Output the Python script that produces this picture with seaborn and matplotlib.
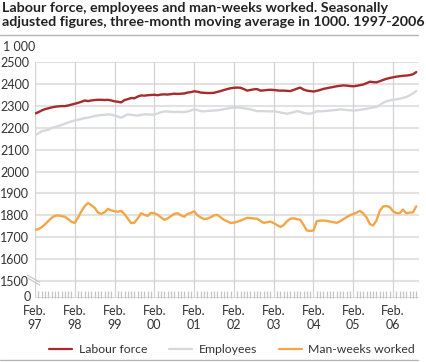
import numpy as np
import pandas as pd
import matplotlib.pyplot as plt
import seaborn as sns
from matplotlib.lines import Line2D

# monthly values, Feb 1997 - Sep 2006, in 1000
labour_force = [2266, 2272, 2280, 2286, 2290, 2294, 2297, 2299, 2300, 2300, 2303, 2307,
                2311, 2315, 2320, 2326, 2323, 2326, 2328, 2329, 2329, 2328, 2329, 2326,
                2322, 2320, 2317, 2328, 2332, 2337, 2336, 2344, 2349, 2348, 2350, 2351,
                2352, 2350, 2353, 2354, 2353, 2355, 2357, 2356, 2357, 2358, 2362, 2364,
                2368, 2366, 2362, 2361, 2360, 2360, 2361, 2365, 2369, 2374, 2378, 2382,
                2384, 2385, 2384, 2378, 2371, 2374, 2377, 2378, 2371, 2372, 2374, 2375,
                2374, 2372, 2371, 2371, 2370, 2369, 2374, 2380, 2385, 2376, 2371, 2369,
                2367, 2370, 2374, 2379, 2382, 2385, 2388, 2391, 2393, 2395, 2394, 2392,
                2391, 2393, 2396, 2399, 2405, 2412, 2410, 2409, 2414, 2420, 2425, 2429,
                2432, 2435, 2437, 2439, 2440, 2442, 2446, 2456]
employees = [2165, 2175, 2185, 2188, 2192, 2200, 2204, 2208, 2214, 2219, 2225, 2230,
             2234, 2238, 2241, 2245, 2247, 2251, 2255, 2257, 2259, 2260, 2262, 2261,
             2257, 2252, 2247, 2255, 2262, 2260, 2258, 2257, 2260, 2262, 2262, 2261,
             2262, 2266, 2272, 2276, 2275, 2274, 2273, 2274, 2273, 2273, 2275, 2280,
             2285, 2282, 2277, 2276, 2278, 2279, 2280, 2281, 2283, 2286, 2289, 2292,
             2293, 2294, 2292, 2290, 2288, 2285, 2281, 2277, 2277, 2277, 2276, 2276,
             2276, 2274, 2271, 2268, 2265, 2268, 2272, 2277, 2274, 2269, 2266, 2265,
             2270, 2276, 2276, 2277, 2278, 2280, 2281, 2283, 2285, 2284, 2282, 2281,
             2280, 2281, 2283, 2285, 2288, 2291, 2294, 2296, 2305, 2315, 2322, 2326,
             2329, 2331, 2334, 2338, 2342, 2349, 2358, 2369]
man_weeks = [1733, 1736, 1745, 1758, 1773, 1788, 1797, 1799, 1796, 1793, 1782, 1770,
             1765, 1790, 1818, 1842, 1856, 1846, 1834, 1812, 1806, 1814, 1829, 1822,
             1818, 1816, 1820, 1805, 1784, 1764, 1766, 1786, 1809, 1802, 1797, 1811,
             1809, 1802, 1790, 1779, 1785, 1796, 1806, 1809, 1800, 1793, 1806, 1810,
             1818, 1800, 1790, 1782, 1785, 1791, 1799, 1802, 1790, 1779, 1772, 1765,
             1766, 1770, 1775, 1782, 1788, 1787, 1785, 1784, 1774, 1765, 1768, 1771,
             1764, 1755, 1746, 1755, 1772, 1784, 1786, 1782, 1779, 1756, 1730, 1728,
             1730, 1773, 1775, 1776, 1774, 1771, 1768, 1765, 1772, 1782, 1791, 1800,
             1806, 1812, 1820, 1808, 1790, 1760, 1753, 1776, 1820, 1840, 1842, 1838,
             1818, 1810, 1809, 1826, 1809, 1812, 1813, 1841]
years = ['97', '98', '99', '00', '01', '02', '03', '04', '05', '06']
series_names = ['Labour force', 'Employees', 'Man-weeks worked']
colors = ['#a82a2b', '#d6d8de', '#f4a647']

sns.set_theme(style='white')
plt.rcParams['font.family'] = ['Lato', 'DejaVu Sans']

months = np.arange(len(labour_force))
df = pd.DataFrame({'month': months,
                   'Labour force': labour_force,
                   'Employees': employees,
                   'Man-weeks worked': man_weeks})
long = df.melt(id_vars='month', var_name='series', value_name='value')

fig = plt.figure(figsize=(4.27, 3.62), dpi=100)
ax = fig.add_axes([0.082, 0.177, 0.899, 0.651])

zero_pos = 1422  # broken axis: where "0" sits
ax.set_ylim(zero_pos - 1, 2501)
ax.set_xlim(0, 115.8)

# grid
for v in range(1500, 2501, 100):
    ax.axhline(v, color='#e2e2e2', lw=1.5, zorder=0)
ax.axhline(zero_pos, color='#cfcfcf', lw=1.2, zorder=0)
for i in range(len(years)):
    ax.axvline(i * 12, color='#d3d3d3', lw=0.9, zorder=0)

sns.lineplot(data=long, x='month', y='value', hue='series',
             palette=dict(zip(series_names, colors)), hue_order=series_names[::-1],
             linewidth=1.7, ax=ax, legend=False)

for s in ax.spines.values():
    s.set_visible(False)

ax.set_yticks(list(range(1500, 2501, 100)))
ax.set_yticklabels([str(v) for v in range(1500, 2501, 100)])
ax.set_xticks([i * 12 for i in range(len(years))])
ax.set_xticklabels(['Feb.\n' + y for y in years])
ax.set_xticks(np.arange(0, 116), minor=True)
ax.tick_params(axis='y', length=0, pad=4, labelsize=9, labelcolor='#333333')
ax.tick_params(axis='x', which='major', length=0, pad=5, labelsize=9, labelcolor='#333333')
ax.tick_params(axis='x', which='minor', direction='in', length=5, width=0.9, color='#c4c4c4', bottom=True)
ax.set_xlabel('')
ax.set_ylabel('')

# axis break marks
for dy in (0, 0.012):
    ax.plot([-0.02, 0.012], [0.085 + dy, 0.055 + dy], transform=ax.transAxes,
            color='#c8c8c8', lw=0.9, clip_on=False)

# "0" label under the break
fig.text(0.072, 0.18, '0', fontsize=9, color='#333333', ha='right', va='center', zorder=10)

fig.text(0.008, 0.87, '1 000', fontsize=9, color='#333333', va='center')

fig.text(0.004, 0.995, 'Labour force, employees and man-weeks worked. Seasonally\n'
         'adjusted figures, three-month moving average in 1000. 1997-2006',
         fontsize=10.3, fontweight='bold', color='#222222', va='top', linespacing=1.2)
fig.add_artist(Line2D([0, 0.98], [0.903, 0.903], transform=fig.transFigure, color='#b5b5b5', lw=1))
fig.add_artist(Line2D([0, 0.98], [0.005, 0.005], transform=fig.transFigure, color='#b5b5b5', lw=1))

handles = [Line2D([], [], color=c, lw=1.6) for c in colors]
fig.legend(handles, series_names, loc='center', bbox_to_anchor=(0.544, 0.035), ncol=3,
           frameon=False, fontsize=8.8, handlelength=1.85, handletextpad=0.55,
           columnspacing=1.8, labelcolor='#333333')

fig.savefig('out.png', dpi=100)
